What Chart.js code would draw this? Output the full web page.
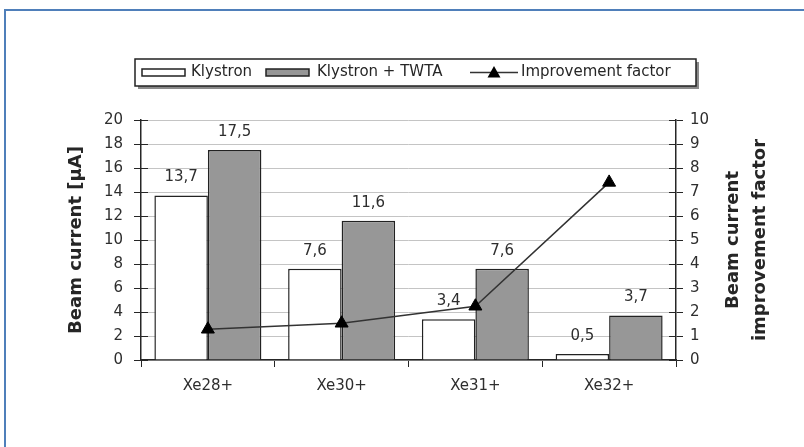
<!DOCTYPE html>
<html>
<head>
<meta charset="utf-8">
<title>Beam current: Klystron vs Klystron + TWTA</title>
<script src="https://cdn.jsdelivr.net/npm/chart.js@4.4.1/dist/chart.umd.min.js"></script>
<style>
  html, body { margin: 0; padding: 0; background: #ffffff; overflow: hidden; }
  #wrap { position: relative; width: 804px; height: 447px; overflow: hidden; }
  canvas { position: absolute; left: 0; top: 0; }
</style>
</head>
<body>
<div id="wrap">
  <canvas id="chart" width="804" height="447"></canvas>
</div>
<script>
// Charge states of the xenon ions
const categories = ['Xe28+', 'Xe30+', 'Xe31+', 'Xe32+'];
// Beam current in µA
const klystron = [13.7, 7.6, 3.4, 0.5];
const klystronTwta = [17.5, 11.6, 7.6, 3.7];
// Ratio of the two beam currents
const improvement = [1.28, 1.53, 2.24, 7.4];

const seriesNames = ['Klystron', 'Klystron + TWTA', 'Improvement factor'];
const leftTitle = 'Beam current [µA]';
const rightTitle = ['Beam current', 'improvement factor'];

const FONT = "'DejaVu Sans', 'Liberation Sans', sans-serif";
const INK = '#262626';
const GREY_BAR = '#979797';

const fmt = v => v.toFixed(1).replace('.', ',');

// Blue page frame along the top and left edges
const pageFrame = {
  id: 'pageFrame',
  beforeDraw(chart) {
    const ctx = chart.ctx;
    ctx.save();
    ctx.fillStyle = '#ffffff';
    ctx.fillRect(0, 0, chart.width, chart.height);
    ctx.strokeStyle = '#4f7fba';
    ctx.lineWidth = 2;
    ctx.beginPath();
    ctx.moveTo(5, chart.height);
    ctx.lineTo(5, 10);
    ctx.lineTo(chart.width, 10);
    ctx.stroke();
    ctx.restore();
  }
};

// Value labels above each bar
const barLabels = {
  id: 'barLabels',
  afterDatasetsDraw(chart) {
    const ctx = chart.ctx;
    ctx.save();
    ctx.font = '15px ' + FONT;
    ctx.fillStyle = '#2e2e2e';
    ctx.textAlign = 'center';
    ctx.textBaseline = 'middle';
    [0, 1].forEach(i => {
      const meta = chart.getDatasetMeta(i);
      const values = chart.data.datasets[i].data;
      meta.data.forEach((bar, j) => {
        ctx.fillText(fmt(values[j]), bar.x, bar.y - 18);
      });
    });
    ctx.restore();
  }
};

// Tick marks that cross the value axes, axis titles and the boxed legend
const decorations = {
  id: 'decorations',
  afterDraw(chart) {
    const ctx = chart.ctx;
    const area = chart.chartArea;
    const y = chart.scales.y;
    const y1 = chart.scales.y1;
    ctx.save();

    // inner halves of the axis ticks
    ctx.strokeStyle = INK;
    ctx.lineWidth = 1;
    y.ticks.forEach(t => {
      const py = Math.round(y.getPixelForValue(t.value)) + 0.5;
      ctx.beginPath(); ctx.moveTo(area.left, py); ctx.lineTo(area.left + 7, py); ctx.stroke();
    });
    y1.ticks.forEach(t => {
      const py = Math.round(y1.getPixelForValue(t.value)) + 0.5;
      ctx.beginPath(); ctx.moveTo(area.right - 7, py); ctx.lineTo(area.right, py); ctx.stroke();
    });

    // axis titles, reading bottom to top
    const midY = (area.top + area.bottom) / 2;
    ctx.fillStyle = INK;
    ctx.font = 'bold 18px ' + FONT;
    ctx.textAlign = 'center';
    ctx.textBaseline = 'middle';
    const rotated = (text, x) => {
      ctx.save();
      ctx.translate(x, midY);
      ctx.rotate(-Math.PI / 2);
      ctx.fillText(text, 0, 0);
      ctx.restore();
    };
    rotated(leftTitle, 76);
    rotated(rightTitle[0], 733);
    rotated(rightTitle[1], 760);

    // legend box with a drop shadow
    const bx = 135, by = 59, bw = 561, bh = 27;
    ctx.fillStyle = '#8a8a8a';
    ctx.fillRect(bx + 3, by + 3, bw, bh);
    ctx.fillStyle = '#ffffff';
    ctx.fillRect(bx, by, bw, bh);
    ctx.strokeStyle = '#222';
    ctx.lineWidth = 1.5;
    ctx.strokeRect(bx, by, bw, bh);

    const cy = by + bh / 2;
    ctx.font = '15px ' + FONT;
    ctx.textAlign = 'left';
    ctx.textBaseline = 'middle';
    ctx.lineWidth = 1.5;

    // Klystron swatch
    ctx.fillStyle = '#ffffff';
    ctx.fillRect(142, cy - 3.5, 43, 7);
    ctx.strokeStyle = '#222';
    ctx.strokeRect(142, cy - 3.5, 43, 7);
    ctx.fillStyle = INK;
    ctx.fillText(seriesNames[0], 191, cy);

    // Klystron + TWTA swatch
    ctx.fillStyle = GREY_BAR;
    ctx.fillRect(266, cy - 3.5, 43, 7);
    ctx.strokeRect(266, cy - 3.5, 43, 7);
    ctx.fillStyle = INK;
    ctx.fillText(seriesNames[1], 317, cy);

    // improvement factor line + marker
    ctx.strokeStyle = '#333';
    ctx.beginPath(); ctx.moveTo(470, cy); ctx.lineTo(518, cy); ctx.stroke();
    ctx.fillStyle = '#000';
    ctx.beginPath();
    ctx.moveTo(494, cy - 6.5);
    ctx.lineTo(500.5, cy + 5);
    ctx.lineTo(487.5, cy + 5);
    ctx.closePath();
    ctx.fill();
    ctx.fillStyle = INK;
    ctx.fillText(seriesNames[2], 521, cy);

    ctx.restore();
  }
};

const tickFont = { family: FONT, size: 15 };

new Chart(document.getElementById('chart'), {
  data: {
    labels: categories,
    datasets: [
      {
        type: 'bar', label: seriesNames[0], data: klystron, yAxisID: 'y',
        backgroundColor: '#ffffff', borderColor: '#222', borderWidth: 1.5,
        barPercentage: 1.0, categoryPercentage: 0.8, order: 2
      },
      {
        type: 'bar', label: seriesNames[1], data: klystronTwta, yAxisID: 'y',
        backgroundColor: GREY_BAR, borderColor: '#222', borderWidth: 1.5,
        barPercentage: 1.0, categoryPercentage: 0.8, order: 2
      },
      {
        type: 'line', label: seriesNames[2], data: improvement, yAxisID: 'y1',
        borderColor: '#333', borderWidth: 1.5, tension: 0, fill: false,
        pointStyle: 'triangle', pointRadius: 7.5,
        pointBackgroundColor: '#000', pointBorderColor: '#000', pointBorderWidth: 1,
        order: 0
      }
    ]
  },
  options: {
    responsive: false,
    animation: false,
    events: [],
    layout: { padding: { top: 120, left: 0, right: 0, bottom: 0 } },
    plugins: { legend: { display: false }, tooltip: { enabled: false } },
    scales: {
      x: {
        offset: true,
        grid: { display: true, drawOnChartArea: false, offset: true, tickLength: 7, tickColor: INK, lineWidth: 1 },
        border: { color: INK, width: 1.5 },
        ticks: { font: tickFont, color: '#2e2e2e', padding: 10 },
        afterFit: s => { s.height = 87; }
      },
      y: {
        position: 'left', min: 0, max: 20,
        ticks: { stepSize: 2, font: tickFont, color: '#2e2e2e', padding: 11 },
        grid: { color: '#c4c4c4', lineWidth: 1, tickLength: 7, tickColor: INK },
        border: { color: INK, width: 1.5 },
        afterFit: s => { s.width = 141; }
      },
      y1: {
        position: 'right', min: 0, max: 10,
        ticks: { stepSize: 1, font: tickFont, color: '#2e2e2e', padding: 7 },
        grid: { drawOnChartArea: false, tickLength: 7, tickColor: INK },
        border: { color: INK, width: 1.5 },
        afterFit: s => { s.width = 128; }
      }
    }
  },
  plugins: [pageFrame, barLabels, decorations]
});
</script>
</body>
</html>
